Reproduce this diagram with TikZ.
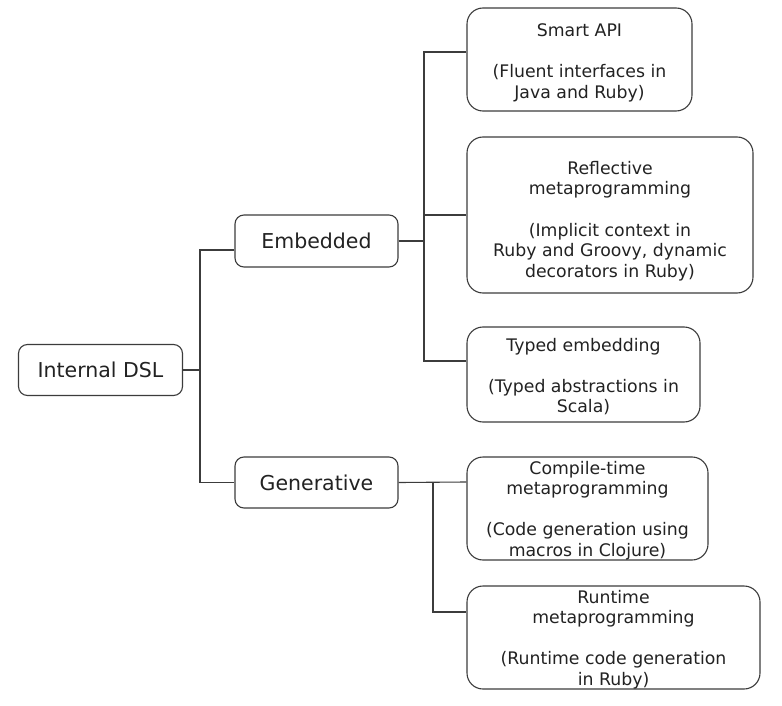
\documentclass[tikz,border=0pt]{standalone}
\usepackage{fontspec}
\setmainfont{DejaVu Sans}
\definecolor{linec}{HTML}{3C3C3C}
\definecolor{textc}{HTML}{222222}
\begin{document}
\begin{tikzpicture}[x=1pt,y=-1pt,
  box/.style={draw=linec, line width=1.1pt, text=textc, inner sep=0pt},
  midbox/.style={box, rounded corners=9pt, font=\fontsize{20.5}{24}\selectfont},
  leafbox/.style={box, rounded corners=16pt},
  leaftext/.style={align=center, text=textc, inner sep=0pt, font=\fontsize{17.3}{20.6}\selectfont},
  conn/.style={draw=linec, line width=1.1pt}]
\useasboundingbox (0,0) rectangle (782,706);
\fill[white] (0,0) rectangle (782,706);

\node[midbox, minimum width=164pt, minimum height=51pt] (dsl) at (100.5,370) {Internal DSL};
\node[midbox, minimum width=163pt, minimum height=52pt] (emb) at (316.5,241) {Embedded};
\node[midbox, minimum width=163pt, minimum height=51pt] (gen) at (316.5,482.5) {Generative};

\node[leafbox, minimum width=225pt, minimum height=103pt] (smart) at (579.5,59.5) {};
\node[leaftext] (smartt) at ([yshift=-3pt]smart.center)
  {Smart API\\[20.6pt](Fluent interfaces in\\Java and Ruby)};
\node[leafbox, minimum width=286pt, minimum height=156pt] (refl) at (610,215) {};
\node[leaftext] (reflt) at ([yshift=-6pt]refl.center)
  {Reflective\\metaprogramming\\[20.6pt](Implicit context in\\Ruby and Groovy, dynamic\\decorators in Ruby)};
\node[leafbox, minimum width=233pt, minimum height=95pt] (typed) at (583.5,374.5) {};
\node[leaftext] (typedt) at ([yshift=-2pt]typed.center)
  {Typed embedding\\[20.6pt](Typed abstractions in\\Scala)};
\node[leafbox, minimum width=241pt, minimum height=103pt] (comp) at (587.5,508.5) {};
\node[leaftext] (compt) at ([yshift=-2pt]comp.center)
  {Compile-time\\metaprogramming\\[20.6pt](Code generation using\\macros in Clojure)};
\node[leafbox, minimum width=293pt, minimum height=103pt] (run) at (613.5,637.5) {};
\node[leaftext] (runt) at ([yshift=-2pt]run.center)
  {Runtime\\metaprogramming\\[20.6pt](Runtime code generation\\in Ruby)};

\coordinate (j1) at (200,370);
\coordinate (j2) at (424,241);
\coordinate (j3) at (433,482);

\draw[conn] (dsl.east) -- (j1);
\draw[conn] ([yshift=-9pt]emb.west) -| (j1) |- (gen.west);

\draw[conn] (emb.east) -- (j2);
\draw[conn] ([yshift=7.5pt]smart.west) -| (j2) |- ([yshift=13.5pt]typed.west);
\draw[conn] (refl.west) -- (refl.west -| j2);

\draw[conn] (gen.east) -- ([yshift=26.5pt]comp.west);
\draw[conn] (j3) |- ([yshift=25.5pt]run.west);
\end{tikzpicture}
\end{document}
